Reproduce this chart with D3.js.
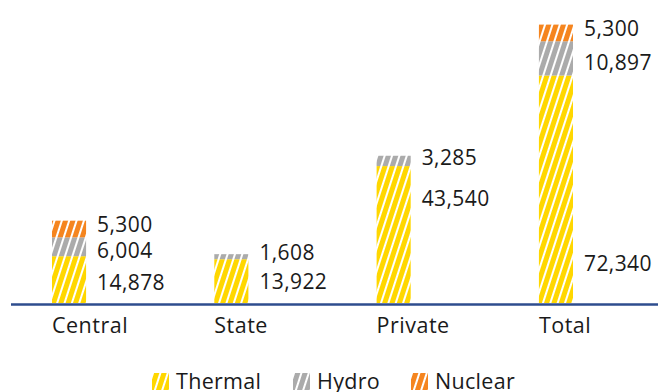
<!DOCTYPE html>
<html>
<head>
<meta charset="utf-8">
<script src="https://cdn.jsdelivr.net/npm/d3@7"></script>
<style>
  html, body { margin: 0; padding: 0; background: #ffffff; }
  svg { display: block; }
  text { font-family: "Open Sans", "Noto Sans", sans-serif; fill: #1a1a1a; }
</style>
</head>
<body>
<svg id="chart" width="659" height="392"></svg>
<script>
// Installed capacity (MW) by sector and source
const categories = ["Central", "State", "Private", "Total"];
const seriesNames = ["Thermal", "Hydro", "Nuclear"];
const thermal = [14878, 13922, 43540, 72340];
const hydro   = [6004, 1608, 3285, 10897];
const nuclear = [5300, 0, 0, 5300];

const colors = { Thermal: "#FFD700", Hydro: "#ABABAB", Nuclear: "#F5851F" };

// Per-label vertical nudge (px) from the segment centre
const labelNudge = {
  "Central|Nuclear": -5, "Central|Hydro": 3.5, "Central|Thermal": 3,
  "State|Hydro": -4, "State|Thermal": 0,
  "Private|Hydro": -3, "Private|Thermal": -36,
  "Total|Nuclear": -4, "Total|Hydro": 4, "Total|Thermal": 74
};

const svg = d3.select("#chart");

const x = d3.scaleBand().domain(categories).range([52, 573])
  .paddingInner(0.79).paddingOuter(0).align(0);
const y = d3.scaleLinear().domain([0, 90000]).range([303, 20]);

// Striped fills
const defs = svg.append("defs");
seriesNames.forEach(name => {
  const p = defs.append("pattern")
    .attr("id", "pat-" + name)
    .attr("patternUnits", "userSpaceOnUse")
    .attr("width", 7).attr("height", 10)
    .attr("patternTransform", "rotate(18)");
  p.append("rect").attr("width", 7).attr("height", 10).attr("fill", colors[name]);
  p.append("rect").attr("x", 0).attr("width", 2).attr("height", 10).attr("fill", "#ffffff");
});

const rows = categories.map((c, i) => ({
  category: c, Thermal: thermal[i], Hydro: hydro[i], Nuclear: nuclear[i]
}));
const stacked = d3.stack().keys(seriesNames)(rows);

const fmt = d3.format(",");

const layers = svg.append("g").selectAll("g")
  .data(stacked).join("g")
  .attr("fill", d => `url(#pat-${d.key})`);

layers.selectAll("rect")
  .data(d => d.map(s => ({ key: d.key, s })))
  .join("rect")
  .filter(d => d.s[1] - d.s[0] > 0)
  .attr("x", d => x(d.s.data.category))
  .attr("width", x.bandwidth())
  .attr("y", d => y(d.s[1]))
  .attr("height", d => y(d.s[0]) - y(d.s[1]));

// Value labels to the right of each segment
const labelData = [];
stacked.forEach(layer => {
  layer.forEach(s => {
    const v = s[1] - s[0];
    if (v > 0) labelData.push({ key: layer.key, category: s.data.category, v, mid: (y(s[0]) + y(s[1])) / 2 });
  });
});
svg.append("g").selectAll("text")
  .data(labelData).join("text")
  .attr("x", d => x(d.category) + x.bandwidth() + 11)
  .attr("y", d => d.mid + (labelNudge[d.category + "|" + d.key] || 0))
  .attr("dy", "0.36em")
  .attr("font-size", 21)
  .attr("letter-spacing", 0.4)
  .text(d => fmt(d.v));

// Baseline axis
svg.append("line")
  .attr("x1", 11).attr("x2", 658)
  .attr("y1", y(0) + 1.5).attr("y2", y(0) + 1.5)
  .attr("stroke", "#2E4D8E").attr("stroke-width", 2.4);

// Category labels
svg.append("g").selectAll("text")
  .data(categories).join("text")
  .attr("x", d => x(d))
  .attr("y", 333)
  .attr("font-size", 21.5)
  .attr("letter-spacing", 0.5)
  .text(d => d);

// Legend
const legendX = [152, 293, 411];
const legend = svg.append("g").selectAll("g")
  .data(seriesNames).join("g")
  .attr("transform", (d, i) => `translate(${legendX[i]},373)`);
legend.append("rect")
  .attr("width", 17).attr("height", 17)
  .attr("fill", d => `url(#pat-${d})`);
legend.append("text")
  .attr("x", 24).attr("y", 15.5)
  .attr("font-size", 21.5)
  .attr("letter-spacing", 0.3)
  .text(d => d);
</script>
</body>
</html>
